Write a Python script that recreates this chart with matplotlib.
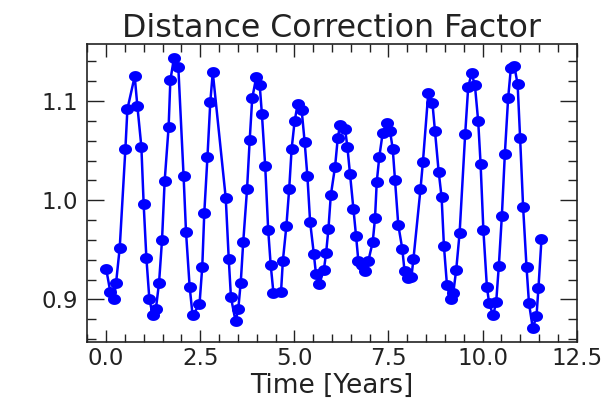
import numpy as np
import matplotlib
matplotlib.use("Agg")
import matplotlib.pyplot as plt
from matplotlib.path import Path
from matplotlib.ticker import MultipleLocator

# Observation epochs (years since start) and the distance correction factor
time_years = [
    0.00, 0.114, 0.202, 0.265, 0.361, 0.512, 0.565, 0.759, 0.830, 0.936,
    0.997, 1.069, 1.149, 1.241, 1.321, 1.406, 1.485, 1.554, 1.660, 1.706,
    1.804, 1.918, 2.058, 2.122, 2.218, 2.297, 2.480, 2.554, 2.607, 2.692,
    2.767, 2.833, 3.178, 3.257, 3.316, 3.438, 3.509, 3.576, 3.642, 3.743,
    3.814, 3.881, 3.987, 4.080, 4.138, 4.225, 4.305, 4.371, 4.446, 4.645,
    4.695, 4.788, 4.862, 4.928, 5.008, 5.088, 5.194, 5.273, 5.347, 5.419,
    5.517, 5.573, 5.666, 5.785, 5.844, 5.905, 5.968, 6.082, 6.154, 6.215,
    6.347, 6.408, 6.480, 6.568, 6.639, 6.700, 6.790, 6.878, 6.966, 7.082,
    7.143, 7.188, 7.257, 7.347, 7.454, 7.541, 7.613, 7.674, 7.761, 7.867,
    7.926, 8.027, 8.111, 8.164, 8.350, 8.416, 8.557, 8.668, 8.735, 8.833,
    8.912, 8.973, 9.053, 9.151, 9.220, 9.300, 9.390, 9.538, 9.618, 9.708,
    9.796, 9.883, 9.947, 10.021, 10.114, 10.175, 10.281, 10.361, 10.432, 10.512,
    10.592, 10.679, 10.751, 10.846, 10.931, 10.997, 11.077, 11.167, 11.233, 11.334,
    11.432, 11.485, 11.565,
]
correction_factor = [
    0.931, 0.907, 0.900, 0.917, 0.952, 1.052, 1.092, 1.125, 1.095, 1.054,
    0.996, 0.942, 0.900, 0.884, 0.890, 0.917, 0.960, 1.019, 1.074, 1.121,
    1.144, 1.134, 1.024, 0.968, 0.913, 0.884, 0.895, 0.933, 0.987, 1.044,
    1.099, 1.129, 1.002, 0.941, 0.902, 0.878, 0.890, 0.917, 0.958, 1.011,
    1.061, 1.103, 1.124, 1.116, 1.087, 1.035, 0.970, 0.935, 0.906, 0.907,
    0.939, 0.974, 1.011, 1.052, 1.080, 1.097, 1.091, 1.059, 1.024, 0.978,
    0.946, 0.926, 0.916, 0.930, 0.947, 0.971, 1.005, 1.034, 1.063, 1.076,
    1.072, 1.054, 1.026, 0.991, 0.964, 0.939, 0.935, 0.929, 0.939, 0.958,
    0.982, 1.018, 1.044, 1.068, 1.078, 1.070, 1.052, 1.020, 0.975, 0.951,
    0.929, 0.922, 0.923, 0.941, 1.011, 1.039, 1.108, 1.098, 1.070, 1.029,
    1.003, 0.954, 0.915, 0.900, 0.906, 0.930, 0.967, 1.067, 1.114, 1.128,
    1.116, 1.080, 1.037, 0.970, 0.913, 0.896, 0.884, 0.897, 0.934, 0.984,
    1.047, 1.103, 1.133, 1.135, 1.117, 1.063, 0.993, 0.933, 0.896, 0.871,
    0.883, 0.912, 0.961,
]

title = "Distance Correction Factor"
x_label = "Time [Years]"

plt.rcParams["font.family"] = ["DejaVu Sans"]

fig = plt.figure(figsize=(6.08, 4.05), dpi=100)
ax = fig.add_axes([0.1436, 0.1563, 0.9485 - 0.1436, 0.8914 - 0.1563])

# slightly wide oval marker
theta = np.linspace(0, 2 * np.pi, 41)
oval = Path(np.column_stack([1.2 * np.cos(theta), np.sin(theta)]), closed=True)

ax.plot(time_years, correction_factor, color="#0000ff", lw=1.8,
        marker=oval, markersize=9.4, markeredgewidth=0)

ax.set_xlim(-0.5, 12.5)
ax.margins(y=0.05)

ax.xaxis.set_major_locator(MultipleLocator(2.5))
ax.xaxis.set_minor_locator(MultipleLocator(0.5))
ax.yaxis.set_major_locator(MultipleLocator(0.1))
ax.yaxis.set_minor_locator(MultipleLocator(0.02))

ax.tick_params(which="both", direction="in", top=True, right=True,
               width=1.0, color="#222222", labelcolor="#222222")
ax.tick_params(axis="x", which="major", length=9, labelsize=16.5, pad=4)
ax.tick_params(axis="x", which="minor", length=5.5)
ax.tick_params(axis="y", which="major", length=12, labelsize=16.5, pad=7)
ax.tick_params(axis="y", which="minor", length=6.5)

for sp in ax.spines.values():
    sp.set_linewidth(1.2)
    sp.set_color("#222222")

ax.set_title(title, fontsize=22.8, pad=3, color="#222222")
ax.set_xlabel(x_label, fontsize=19, labelpad=2, color="#222222")

fig.savefig("out.png", dpi=100)
